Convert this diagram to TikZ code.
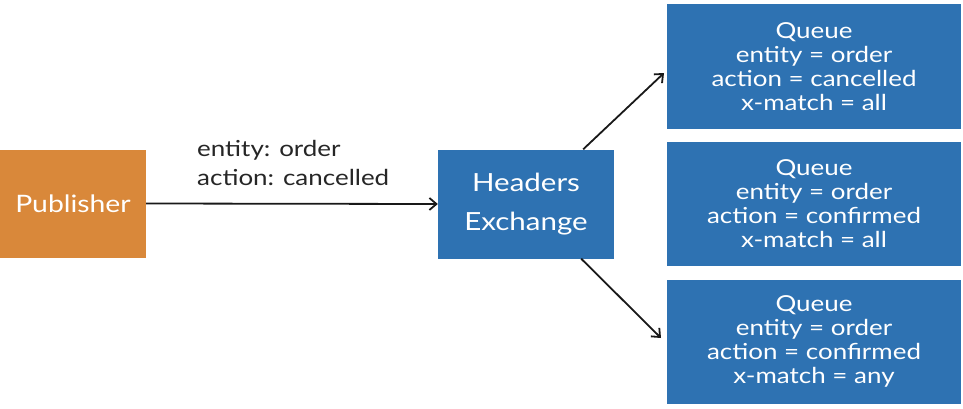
\documentclass[tikz,border=0pt]{standalone}
\usepackage{fontspec}
\setmainfont[FakeStretch=1.18]{Lato}
\usetikzlibrary{arrows.meta,calc}
\definecolor{pubfill}{RGB}{217,136,58}
\definecolor{boxblue}{RGB}{46,114,178}
\begin{document}
\begin{tikzpicture}[x=1pt,y=1pt,
  pubbox/.style={fill=pubfill, draw=none, text=white, minimum width=146pt, minimum height=108pt, inner sep=0pt, font=\fontsize{24}{30}\selectfont},
  xbox/.style={fill=boxblue, draw=none, text=white, minimum width=176pt, minimum height=109pt, inner sep=0pt, align=center, font=\fontsize{25}{39}\selectfont},
  qbox/.style={fill=boxblue, draw=none, text=white, minimum width=294pt, minimum height=124pt, inner sep=0pt, align=center, font=\fontsize{22}{24}\selectfont},
  link/.style={draw=black!90, line width=1.8pt, -{Straight Barb[length=7pt,width=12pt,line width=1.8pt]}},
  lbl/.style={align=left, font=\fontsize{22}{28}\selectfont, text=black!85, inner sep=0pt}
]
\useasboundingbox (0,0) rectangle (963,408);
% publisher and exchange
\node[pubbox] (pub) at (73,204.5) {Publisher};
\node[xbox] (ex) at (526,204) {Headers\\Exchange};
% queues
\node[qbox] (q1) at (814,341.5) {Queue\\entity = order\\action = cancelled\\x-match = all};
\node[qbox] (q2) at (814,204) {Queue\\entity = order\\action = confirmed\\x-match = all};
\node[qbox] (q3) at (814,66.5) {Queue\\entity = order\\action = confirmed\\x-match = any};
% publisher to exchange, with the message headers
\draw[link] (pub.east) -- (ex.west);
\node[lbl, anchor=base west] (hdr) at (197,223) {action: cancelled};
\node[lbl, anchor=base west] (hdr0) at (197,252) {entity: order};
% exchange fan-out to the matching queues
\coordinate (upend) at (664,335);
\coordinate (downend) at (661,70);
\draw[link] ($(ex.north east)+(-31,0)$) -- (upend);
\draw[link] ($(ex.south east)+(-33,0)$) -- (downend);
\end{tikzpicture}
\end{document}
